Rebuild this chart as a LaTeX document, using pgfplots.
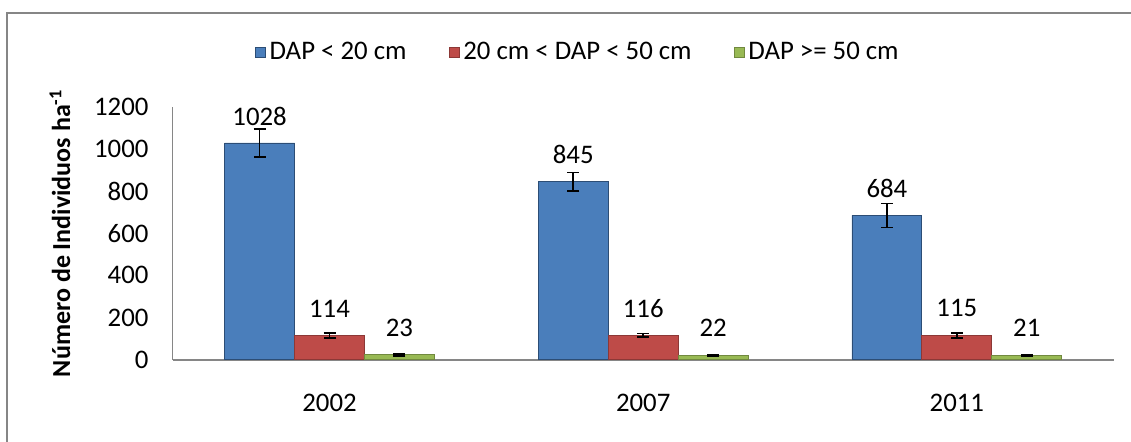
\documentclass[border=0pt]{standalone}
\usepackage{fontspec}
\setmainfont{Carlito}
\usepackage{pgfplots}
\pgfplotsset{compat=1.18}
\definecolor{cblue}{HTML}{4A7EBB}
\definecolor{cblueD}{HTML}{2C4D75}
\definecolor{cred}{HTML}{BE4B48}
\definecolor{credD}{HTML}{8C3836}
\definecolor{cgreen}{HTML}{98B954}
\definecolor{cgreenD}{HTML}{71893F}
\definecolor{axgray}{HTML}{868686}
\begin{document}
\begin{tikzpicture}[font=\fontsize{13.4}{16}\selectfont]
\path[use as bounding box] (-86.35pt,-40.65pt) rectangle (479.15pt,179.85pt);
\draw[axgray, line width=1pt] (-82.85pt,-45pt) -- (-82.85pt,173.35pt) -- (485pt,173.35pt);
\begin{axis}[
  at={(0pt,0pt)}, anchor=south west,
  scale only axis, width=470.5pt, height=126.5pt,
  ybar=0pt, bar width=0.223,
  xmin=-0.5, xmax=2.5, ymin=0, ymax=1200,
  xtick={0,1,2}, xticklabels={2002,2007,2011},
  ytick={0,200,...,1200},
  major tick length=0pt,
  axis x line*=bottom, axis y line*=left,
  axis line style={axgray, line width=0.8pt, -},
  /pgf/number format/assume math mode=true,
  /pgf/number format/1000 sep={},
  yticklabel style={anchor=east, xshift=-8.6pt},
  xticklabel style={anchor=center, yshift=-21.65pt},
  every axis y label/.style={at={([xshift=-56.35pt]axis description cs:0,0.5)}, rotate=90, anchor=center, font=\fontsize{13}{15}\selectfont\bfseries},
  ylabel={Número de Individuos ha\textsuperscript{-1}},
  nodes near coords,
  nodes near coords style={anchor=center, yshift=13.5pt, black},
  error bars/y dir=both, error bars/y explicit,
  error bars/error bar style={black, line width=0.9pt},
  error bars/error mark options={rotate=90, mark size=3pt, line width=0.9pt, black},
  legend style={at={(axis description cs:0.4315,1.216)}, anchor=center, draw=none, legend columns=3,
    /tikz/every even column/.append style={column sep=19pt}, font=\fontsize{13.4}{16}\selectfont},
  legend image code/.code={\draw[#1] (0pt,-2.5pt) rectangle (5pt,2.5pt);},
]
\addplot[fill=cblue, draw=cblueD] coordinates {(0,1028) +- (0,65) (1,845) +- (0,43) (2,684) +- (0,57)};
\addplot[fill=cred, draw=credD] coordinates {(0,114) +- (0,11) (1,116) +- (0,8) (2,115) +- (0,11)};
\addplot[fill=cgreen, draw=cgreenD] coordinates {(0,23) +- (0,4) (1,22) +- (0,3) (2,21) +- (0,3)};
\legend{DAP < 20 cm, 20 cm < DAP < 50 cm, DAP >= 50 cm}
\end{axis}
\end{tikzpicture}
\end{document}
